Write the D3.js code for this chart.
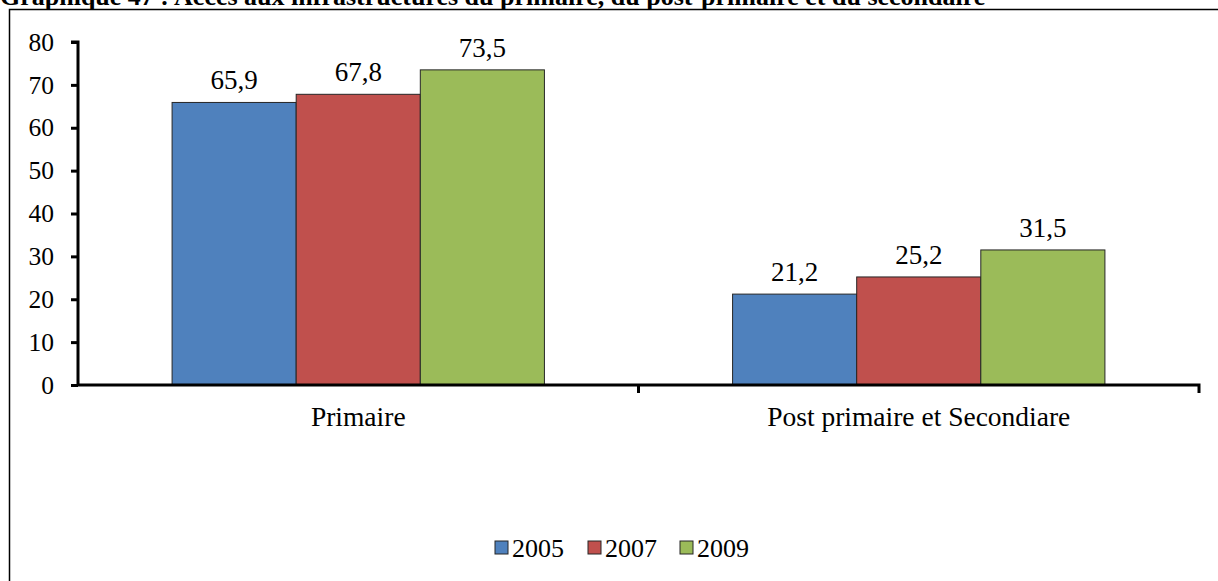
<!DOCTYPE html>
<html>
<head>
<meta charset="utf-8">
<script src="https://cdn.jsdelivr.net/npm/d3@7"></script>
<style>
  html, body { margin: 0; padding: 0; background: #fff; }
  svg { display: block; }
  text { font-family: "Liberation Serif", "Times New Roman", serif; fill: #000; }
</style>
</head>
<body>
<svg id="chart" width="1218" height="581"></svg>
<script>
const categories = ["Primaire", "Post primaire et Secondiare"];
const years = ["2005", "2007", "2009"];
const values2005 = [65.9, 21.2];
const values2007 = [67.8, 25.2];
const values2009 = [73.5, 31.5];
const yTicks = [0, 10, 20, 30, 40, 50, 60, 70, 80];
const colors = ["#4F81BD", "#C0504D", "#9BBB59"];
const title = "Graphique 47 : Accès aux infrastructures du primaire, du post-primaire et du secondaire";

(function () {
const series = [values2005, values2007, values2009];
const svg = d3.select("#chart");

// Title (cut off at top)
svg.append("text").attr("x", 0).attr("y", 5)
  .attr("font-size", 26).attr("font-weight", "bold").text(title);

// Frame
svg.append("path").attr("d", "M9.5,1218V9.5H1218")
  .attr("fill", "none").attr("stroke", "#000").attr("stroke-width", 1.5);

const pL = 78, pR = 1199, pT = 42, pB = 385;
const x0 = d3.scaleBand().domain(categories).range([pL, pR]).padding(0);
const x1 = d3.scaleBand().domain(years).range([0, x0.bandwidth()]).paddingInner(0).paddingOuter(0.758);
const y = d3.scaleLinear().domain([0, 80]).range([pB, pT]);

// Bars
const g = svg.append("g");
categories.forEach((c, ci) => {
  years.forEach((yr, si) => {
    const v = series[si][ci];
    const bx = x0(c) + x1(yr);
    g.append("rect").attr("x", bx).attr("y", y(v))
      .attr("width", x1.bandwidth()).attr("height", y(0) - y(v))
      .attr("fill", colors[si]).attr("stroke", "#262626").attr("stroke-width", 1);
    g.append("text").attr("x", bx + x1.bandwidth() / 2).attr("y", y(v) - 13)
      .attr("text-anchor", "middle").attr("font-size", 27)
      .text(d3.format(".1f")(v).replace(".", ","));
  });
});

// Y axis
const yAxis = d3.axisLeft(y).tickValues(yTicks).tickSize(7).tickPadding(17);
const ya = svg.append("g").attr("transform", `translate(${pL},0)`).call(yAxis);
ya.select(".domain").attr("stroke-width", 3).attr("d", `M-7,${pT}H0V${pB}`);
ya.selectAll(".tick line").attr("stroke-width", 3);
ya.selectAll(".tick text").attr("font-size", 25.5).attr("font-family", "Liberation Serif").attr("fill", "#000");

// X axis
const xa = svg.append("g").attr("transform", `translate(0,${pB})`);
xa.append("path").attr("d", `M${pL},0H${pR}V8`).attr("fill", "none").attr("stroke", "#000").attr("stroke-width", 3);
xa.append("line").attr("x1", x0(categories[1])).attr("x2", x0(categories[1])).attr("y1", 0).attr("y2", 8)
  .attr("stroke", "#000").attr("stroke-width", 3);
categories.forEach(c => {
  xa.append("text").attr("x", x0(c) + x0.bandwidth() / 2).attr("y", 41)
    .attr("text-anchor", "middle").attr("font-size", 27.5).text(c);
});

// Legend
const legX = [495, 588, 680];
years.forEach((yr, i) => {
  svg.append("rect").attr("x", legX[i]).attr("y", 541).attr("width", 13).attr("height", 13)
    .attr("fill", colors[i]).attr("stroke", "#262626").attr("stroke-width", 1);
  svg.append("text").attr("x", legX[i] + 17).attr("y", 557).attr("font-size", 26).text(yr);
});
})();
</script>
</body>
</html>
